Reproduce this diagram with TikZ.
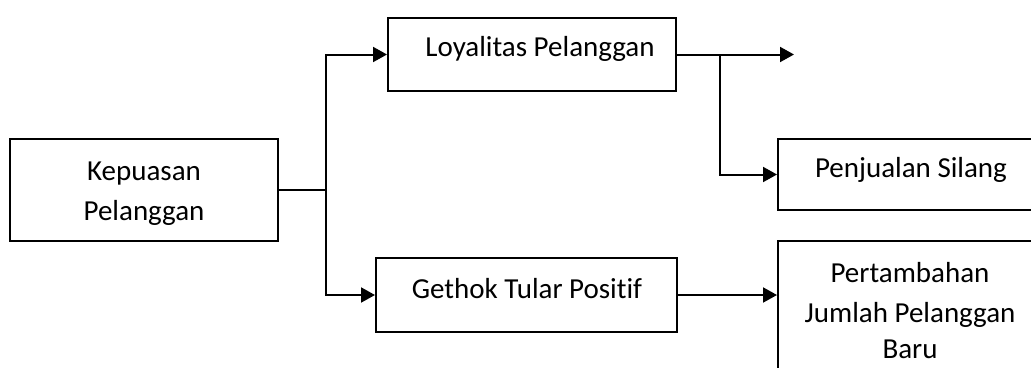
\documentclass[tikz,border=0pt]{standalone}
\usepackage{fontspec}
\setmainfont{Carlito}[RawFeature=-liga]
\usetikzlibrary{arrows.meta}
\begin{document}
\begin{tikzpicture}[x=1pt,y=-1pt,
  box/.style={draw=black,line width=2pt,rectangle,inner sep=0pt},
  lbl/.style={anchor=base,inner sep=0pt,font=\fontsize{29}{33}\selectfont},
  conn/.style={line width=2pt},
  arr/.style={conn,-{Triangle[length=14pt,width=15pt]}}]
\useasboundingbox (0,0) rectangle (1031,367);
\clip (0,0) rectangle (1031,367);
% boxes
\node[box,minimum width=268pt,minimum height=102pt] (kep) at (144,190) {};
\node[box,minimum width=288pt,minimum height=73pt] (loy) at (532,54.5) {};
\node[box,minimum width=301pt,minimum height=74pt] (get) at (526.5,295) {};
\node[box,minimum width=262pt,minimum height=71pt] (pen) at (909,174.5) {};
\node[box,minimum width=262pt,minimum height=139pt] (per) at (909,310.5) {};
% labels
\node[lbl] (t1) at (144,180) {Kepuasan};
\node[lbl] (t2) at (144,220) {Pelanggan};
\node[lbl] (t3) at (540,56) {Loyalitas Pelanggan};
\node[lbl] (t4) at (527,298) {Gethok Tular Positif};
\node[lbl] (t5) at (911,177) {Penjualan Silang};
\node[lbl] (t6) at (910,282) {Pertambahan};
\node[lbl] (t7) at (910,322) {Jumlah Pelanggan};
\node[lbl] (t8) at (910,358) {Baru};
% connectors
\coordinate (j) at (326,190);
\coordinate (out) at (794,54.5);
\coordinate (b) at (720,54.5);
\draw[conn] (kep.east) -- (j);
\draw[arr] (j) |- (loy.west);
\draw[arr] (j) |- (get.west);
\draw[arr] (loy.east) -- (out);
\draw[arr] (b) |- (pen.west);
\draw[arr] (get.east) -- (get.east -| per.west);
\end{tikzpicture}
\end{document}
